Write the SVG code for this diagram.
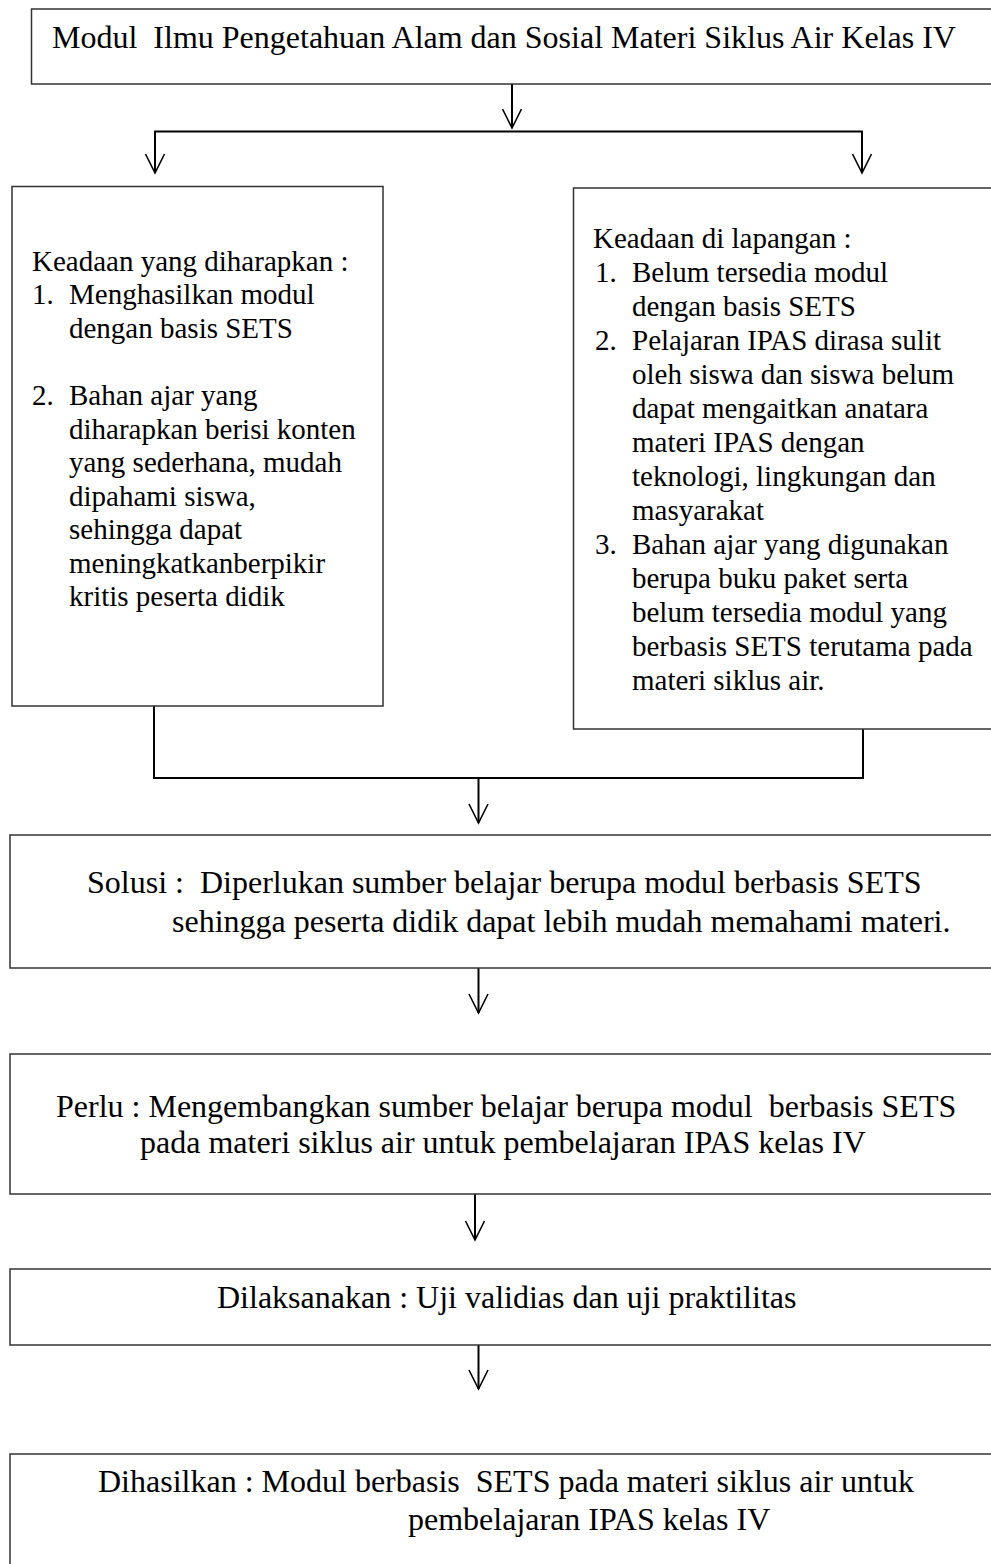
<svg xmlns="http://www.w3.org/2000/svg" width="991" height="1564" viewBox="0 0 991 1564">
<style>
.box{fill:#fff;stroke:#333;stroke-width:1.5}
.t{font-family:"Liberation Serif","Times New Roman",serif;font-size:29px;fill:#000;white-space:pre}
.w{font-size:32px}
.c{fill:none;stroke:#000;stroke-width:2}
</style>
<defs>
<marker id="v" markerWidth="22" markerHeight="22" refX="20" refY="11" orient="auto" markerUnits="userSpaceOnUse" viewBox="0 0 22 22">
<path d="M1,1.5 L20,11 L1,20.5" fill="none" stroke="#000" stroke-width="1.6"/>
</marker>
</defs>
<rect width="991" height="1564" fill="#fff"/>
<g id="connectors">
<line class="c" x1="512" y1="84" x2="512" y2="128" marker-end="url(#v)"/>
<polyline class="c" points="155,150 155,131.5 862,131.5 862,150"/>
<line class="c" x1="155" y1="150" x2="155" y2="173" marker-end="url(#v)"/>
<line class="c" x1="862" y1="150" x2="862" y2="173" marker-end="url(#v)"/>
<polyline class="c" points="154,706 154,778 863,778 863,729"/>
<line class="c" x1="478.5" y1="778" x2="478.5" y2="823" marker-end="url(#v)"/>
<line class="c" x1="478.5" y1="968" x2="478.5" y2="1013" marker-end="url(#v)"/>
<line class="c" x1="475" y1="1194" x2="475" y2="1240" marker-end="url(#v)"/>
<line class="c" x1="478.5" y1="1345" x2="478.5" y2="1389" marker-end="url(#v)"/>
</g>
<g id="node-modul">
<rect class="box" x="31.5" y="9" width="970" height="75"/>
<text class="t w" x="52" y="48">Modul  Ilmu Pengetahuan Alam dan Sosial Materi Siklus Air Kelas IV</text>
</g>
<g id="node-diharapkan">
<rect class="box" x="12" y="186.5" width="371" height="519.5"/>
<text class="t" x="32" y="271">Keadaan yang diharapkan :</text>
<text class="t" x="32" y="304">1.</text>
<text class="t" x="69" y="304">Menghasilkan modul</text>
<text class="t" x="69" y="338">dengan basis SETS</text>
<text class="t" x="32" y="405">2.</text>
<text class="t" x="69" y="405">Bahan ajar yang</text>
<text class="t" x="69" y="439">diharapkan berisi konten</text>
<text class="t" x="69" y="472">yang sederhana, mudah</text>
<text class="t" x="69" y="506">dipahami siswa,</text>
<text class="t" x="69" y="539">sehingga dapat</text>
<text class="t" x="69" y="573">meningkatkanberpikir</text>
<text class="t" x="69" y="606">kritis peserta didik</text>
</g>
<g id="node-lapangan">
<rect class="box" x="573.5" y="188" width="430" height="541"/>
<text class="t" x="593" y="248">Keadaan di lapangan :</text>
<text class="t" x="595" y="282">1.</text>
<text class="t" x="632" y="282">Belum tersedia modul</text>
<text class="t" x="632" y="316">dengan basis SETS</text>
<text class="t" x="595" y="350">2.</text>
<text class="t" x="632" y="350">Pelajaran IPAS dirasa sulit</text>
<text class="t" x="632" y="384">oleh siswa dan siswa belum</text>
<text class="t" x="632" y="418">dapat mengaitkan anatara</text>
<text class="t" x="632" y="452">materi IPAS dengan</text>
<text class="t" x="632" y="486">teknologi, lingkungan dan</text>
<text class="t" x="632" y="520">masyarakat</text>
<text class="t" x="595" y="554">3.</text>
<text class="t" x="632" y="554">Bahan ajar yang digunakan</text>
<text class="t" x="632" y="588">berupa buku paket serta</text>
<text class="t" x="632" y="622">belum tersedia modul yang</text>
<text class="t" x="632" y="656">berbasis SETS terutama pada</text>
<text class="t" x="632" y="690">materi siklus air.</text>
</g>
<g id="node-solusi">
<rect class="box" x="10" y="835" width="990" height="133"/>
<text class="t w" x="87" y="893">Solusi :  Diperlukan sumber belajar berupa modul berbasis SETS</text>
<text class="t w" x="172" y="932">sehingga peserta didik dapat lebih mudah memahami materi.</text>
</g>
<g id="node-perlu">
<rect class="box" x="10" y="1054" width="990" height="140"/>
<text class="t w" x="56" y="1117">Perlu : Mengembangkan sumber belajar berupa modul  berbasis SETS</text>
<text class="t w" x="140" y="1153">pada materi siklus air untuk pembelajaran IPAS kelas IV</text>
</g>
<g id="node-dilaksanakan">
<rect class="box" x="10" y="1269" width="990" height="76"/>
<text class="t w" x="217" y="1308">Dilaksanakan : Uji validias dan uji praktilitas</text>
</g>
<g id="node-dihasilkan">
<rect class="box" x="10" y="1454" width="990" height="120"/>
<text class="t w" x="98" y="1492">Dihasilkan : Modul berbasis  SETS pada materi siklus air untuk</text>
<text class="t w" x="408" y="1530">pembelajaran IPAS kelas IV</text>
</g>
</svg>
